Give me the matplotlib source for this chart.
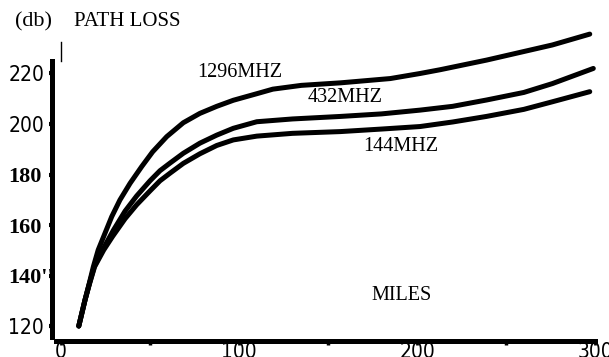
import matplotlib.pyplot as plt
import matplotlib.font_manager as fm

# path loss curves
miles_1296 = [10, 13.5, 15.9, 18.2, 20.9, 24.7, 28.5, 33.1, 38.8, 45.3, 51.5, 59.4, 68.7,
              78, 87.5, 96.8, 110, 119, 135, 157, 185, 201.7, 213, 239, 276, 297]
db_1296 = [120, 130.3, 136.9, 143.5, 150.1, 156.7, 163.3, 169.9, 176.5, 183.1, 189, 195, 200.5,
           204.2, 207, 209.4, 212, 213.8, 215.3, 216.3, 218, 220, 221.5, 225.3, 231.3, 235.6]

miles_432 = [10, 13.5, 16, 18.7, 23.3, 29.5, 36, 42.5, 50, 55.6, 61.2, 68.7, 78, 87.5,
             96.8, 110, 130, 157, 180, 201.7, 220, 239, 260, 276, 299]
db_432 = [120, 130.3, 136.9, 143.5, 150.1, 158, 165.5, 171.5, 177.5, 181.5, 184.5, 188.4, 192.4, 195.6,
          198.3, 200.9, 202, 203, 204, 205.5, 207, 209.5, 212.5, 216, 222]

miles_144 = [10, 13.5, 16.1, 18.9, 24, 29, 36, 42.5, 50, 55.6, 61.2, 68.7, 78, 87.5,
             96.8, 110, 130, 157, 180, 201.7, 220, 239, 260, 276, 297]
db_144 = [120, 130.3, 136.9, 143.5, 150.1, 155.5, 162.5, 168, 173.5, 177.5, 180.5, 184.4, 188.2, 191.5,
          193.7, 195.2, 196.3, 197, 198, 199, 200.8, 203, 205.8, 208.8, 212.8]

x_ticks = [0, 100, 200, 300]
x_minor = [50, 150, 250]
y_ticks = [120, 140, 160, 180, 200, 220]
y_labels = ['120', "140''", '160', '180', '200', '220']


def main():
    fig = plt.figure(figsize=(6.09, 3.57), dpi=100)
    ax = fig.add_axes([0.0855, 0.0443, 0.8975, 0.8913])

    for m, d in [(miles_1296, db_1296), (miles_432, db_432), (miles_144, db_144)]:
        ax.plot(m, d, color='k', lw=3.6, solid_capstyle='round', solid_joinstyle='round')

    ax.set_xlim(-5, 302)
    ax.set_ylim(114, 240)

    # axes lines
    for s in ['top', 'right']:
        ax.spines[s].set_visible(False)
    ax.spines['left'].set_linewidth(3.6)
    ax.spines['bottom'].set_linewidth(3.6)
    ax.spines['left'].set_bounds(115.5, 225)
    ax.spines['bottom'].set_bounds(-3, 300)
    ax.axvline(0, ymin=(225 - 114) / 126, ymax=(232.5 - 114) / 126, color='k', lw=1)

    ax.set_xticks(x_ticks)
    ax.set_xticks(x_minor, minor=True)
    ax.tick_params(axis='x', which='major', direction='out', length=3, width=2, pad=-2.5)
    ax.tick_params(axis='x', which='minor', direction='out', length=3, width=2.5)
    ax.set_xticklabels([str(v) for v in x_ticks], fontsize=15, family='DejaVu Sans',
                       fontstretch='condensed')

    ax.set_yticks(y_ticks)
    ax.set_yticklabels(y_labels)
    ax.tick_params(axis='y', direction='out', length=2.5, width=3, pad=29)
    for lab in ax.get_yticklabels():
        t = lab.get_text()
        lab.set_horizontalalignment('left')
        if t in ('220', '200', '120'):
            lab.set_fontproperties(fm.FontProperties(family='DejaVu Sans', stretch='condensed', size=15))
        else:
            lab.set_fontproperties(fm.FontProperties(family='Liberation Serif', weight='bold', size=16))

    # labels
    tf = dict(family='Liberation Serif', fontsize=14.5, color='k', ha='center', va='center')
    ax.text(100.3, 220.4, '1296MHZ', **tf)
    ax.text(159.6, 210.5, '432MHZ', **tf)
    ax.text(191, 191, '144MHZ', **tf)
    ax.text(191.3, 131.9, 'MILES', **tf)

    fig.text(33 / 609, 1 - 22 / 357, '(db)', family='Liberation Serif', fontsize=16,
             ha='center', va='center')
    fig.text(127 / 609, 1 - 22 / 357, 'PATH LOSS', family='Liberation Serif', fontsize=15,
             ha='center', va='center')

    fig.savefig('out.png', dpi=100)


if __name__ == "__main__":
    main()
